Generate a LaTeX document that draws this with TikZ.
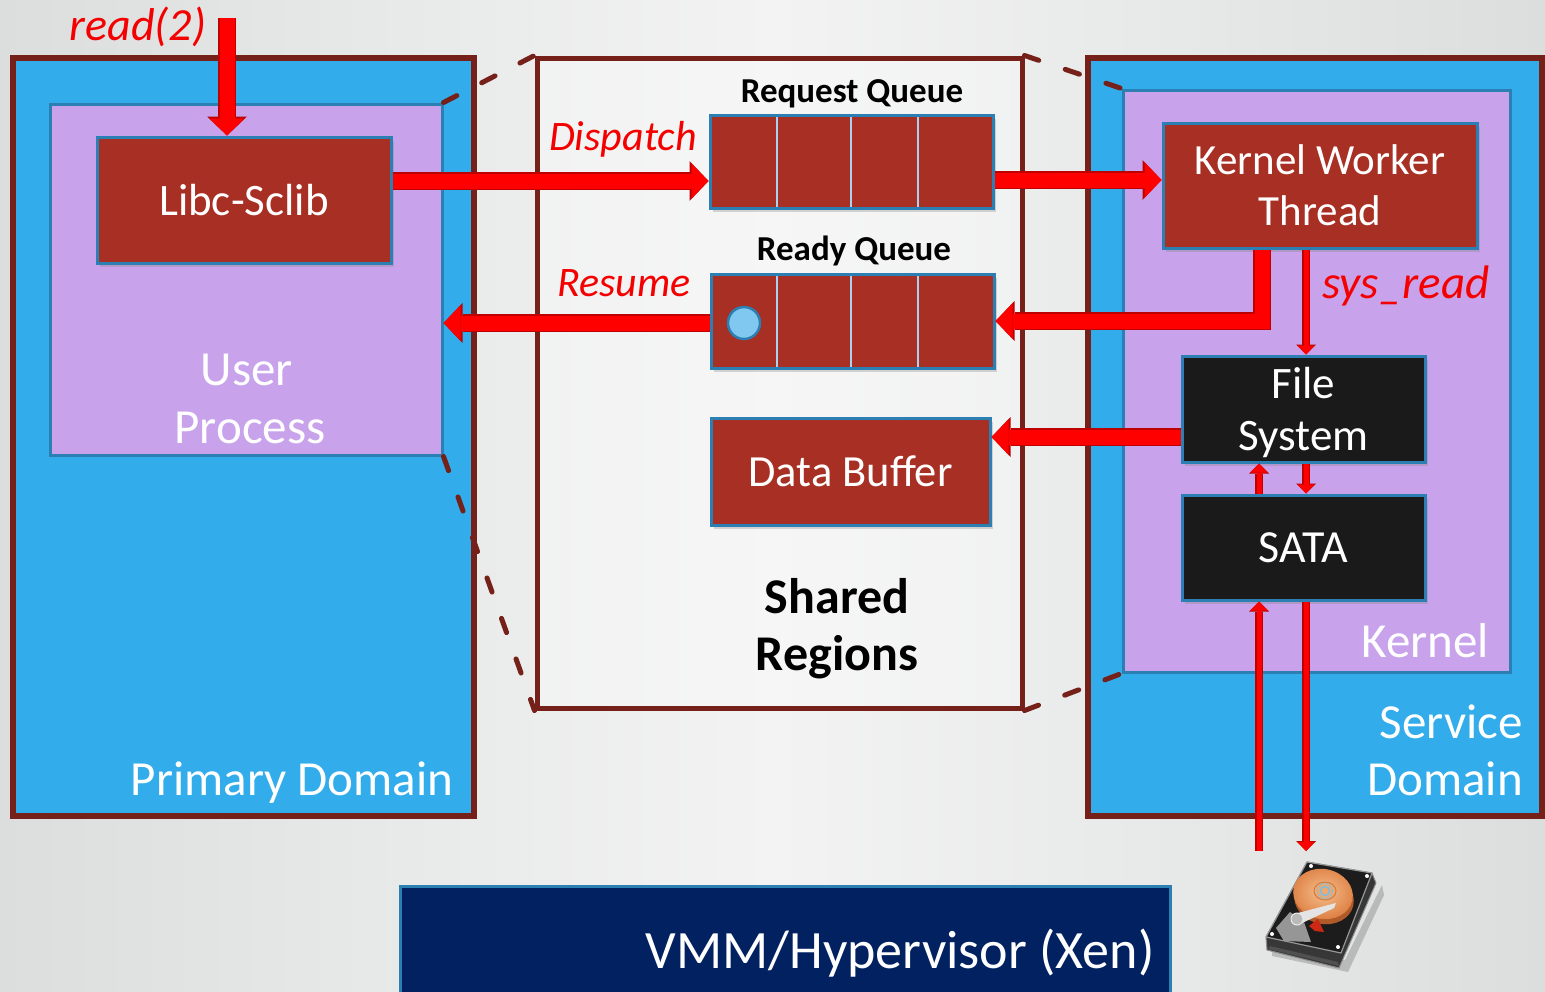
\documentclass[tikz,border=0pt]{standalone}
\usepackage{fontspec}
\setmainfont{Carlito}
\usetikzlibrary{arrows.meta,shadows,calc}

\definecolor{bgmid}{RGB}{243,243,243}
\definecolor{bgedge}{RGB}{220,222,222}
\definecolor{domblue}{RGB}{50,172,234}
\definecolor{lav}{RGB}{200,162,234}
\definecolor{brownline}{RGB}{117,32,25}
\definecolor{boxred}{RGB}{168,47,35}
\definecolor{boxblack}{RGB}{26,26,26}
\definecolor{edgeblue}{RGB}{44,127,178}
\definecolor{arrowred}{RGB}{255,0,0}
\definecolor{arrowedge}{RGB}{190,0,0}
\definecolor{labelred}{RGB}{245,0,0}
\definecolor{navy}{RGB}{2,33,96}
\definecolor{cellline}{RGB}{170,210,240}
\definecolor{tokenblue}{RGB}{128,200,240}
% hard disk palette
\definecolor{hddbody}{RGB}{55,55,55}
\definecolor{hddrim}{RGB}{140,140,140}
\definecolor{hddtop}{RGB}{28,28,28}
\definecolor{hddedge}{RGB}{150,150,150}
\definecolor{hddside}{RGB}{80,80,80}
\definecolor{platterdark}{RGB}{175,90,40}
\definecolor{platterlight}{RGB}{246,190,140}
\definecolor{platterout}{RGB}{222,130,70}
\definecolor{hubfill}{RGB}{240,168,110}
\definecolor{hubedge}{RGB}{205,125,65}
\definecolor{hubblue}{RGB}{120,190,230}
\definecolor{pcbgray}{RGB}{150,150,150}
\definecolor{cablered}{RGB}{205,40,20}
\definecolor{armgray}{RGB}{228,228,228}
\definecolor{pivotgray}{RGB}{185,185,185}
\definecolor{pivotedge}{RGB}{235,235,235}

\newcommand\txtsize[2]{\fontsize{#1}{#2}\selectfont}

\tikzset{
  domainbox/.style={rectangle, draw=brownline, line width=6pt, fill=domblue, inner sep=0pt},
  layerbox/.style={rectangle, draw=edgeblue, line width=3pt, fill=lav, inner sep=0pt},
  sharedbox/.style={rectangle, draw=brownline, line width=5pt, fill=white, fill opacity=0.3, inner sep=0pt},
  shadowed/.style={drop shadow={shadow xshift=3pt, shadow yshift=-4pt, opacity=0.3}},
  redbox/.style={rectangle, draw=edgeblue, line width=3pt, fill=boxred, text=white,
    align=center, inner sep=0pt, shadowed},
  darkbox/.style={redbox, fill=boxblack},
  hyperbox/.style={rectangle, draw=edgeblue, line width=3pt, fill=navy, inner sep=0pt},
  cellsep/.style={draw=cellline, line width=2pt},
  tokendot/.style={circle, draw=edgeblue, line width=2.5pt, fill=tokenblue, minimum size=32pt, inner sep=0pt},
  zoomline/.style={draw=brownline, line width=5pt, line cap=round, dash pattern=on 15pt off 28pt},
  heavy/.style={draw=arrowred, line width=15pt,
    -{Triangle[length=17pt,width=35pt,line width=0pt]},
    preaction={draw=arrowedge, line width=18pt,
      -{Triangle[length=19pt,width=40pt,line width=0pt]}}},
  thinarr/.style={draw=arrowred, line width=5pt,
    -{Triangle[length=9pt,width=17pt,line width=0pt]},
    preaction={draw=arrowedge, line width=7.5pt,
      -{Triangle[length=10pt,width=20pt,line width=0pt]}}},
  redlabel/.style={text=labelred, font=\itshape\txtsize{42}{46}, inner sep=0pt, anchor=base},
  qlabel/.style={text=black, font=\bfseries\txtsize{35}{38}, inner sep=0pt, anchor=base},
  biglabel/.style={text=black, font=\bfseries\txtsize{50}{54}, inner sep=0pt, anchor=base},
  whitelabel/.style={text=white, font=\txtsize{49}{54}, inner sep=0pt, anchor=base},
}

\begin{document}
\begin{tikzpicture}[x=1pt,y=-1pt]
\useasboundingbox (0,0) rectangle (1545,991);
\clip (0,0) rectangle (1545,991);
\shade[left color=bgedge, right color=bgedge, middle color=bgmid] (0,0) rectangle (1545,991);

% domains and their inner layers
\node[domainbox, minimum width=461pt, minimum height=758pt] (pd) at (243.5,437) {};
\node[domainbox, minimum width=454pt, minimum height=758pt] (sd) at (1315,437) {};
\node[layerbox, minimum width=392pt, minimum height=351pt] (up) at (246,279.5) {};
\node[layerbox, minimum width=387pt, minimum height=582pt] (kern) at (1316.5,381) {};
\node[sharedbox, minimum width=485pt, minimum height=650pt] (sh) at (779.5,383) {};

% projection lines onto the shared regions
\draw[zoomline] (up.north east) -- (sh.north west);
\draw[zoomline] (up.south east) -- (sh.south west);
\draw[zoomline] (sh.north east) -- (kern.north west);
\draw[zoomline] (sh.south east) -- (kern.south west);

% components
\node[redbox, minimum width=294pt, minimum height=126pt, font=\txtsize{45}{48}] (libc) at (244,200) {Libc-Sclib};
\node[redbox, minimum width=283pt, minimum height=93pt] (reqq) at (851.5,161.5) {};
\node[redbox, minimum width=283pt, minimum height=94pt] (rdq) at (852.5,321) {};
\node[redbox, minimum width=279pt, minimum height=107pt, font=\txtsize{44.5}{48}] (db) at (850.5,471.5) {Data Buffer};
\node[redbox, minimum width=314pt, minimum height=125pt, font=\txtsize{43}{51}] (kwt) at (1320,185.5) {Kernel Worker\\Thread};
\node[darkbox, minimum width=243pt, minimum height=106pt, font=\txtsize{45}{52}, text depth=0pt] (fs) at (1303.5,409) {File\\System};
\node[darkbox, minimum width=243pt, minimum height=105pt, font=\txtsize{46}{50}] (sata) at (1303.5,547.5) {SATA};
\node[hyperbox, minimum width=770pt, minimum height=128pt] (vmm) at (785,950) {};

% queue slots
\foreach \cx in {777,851,918} {
  \draw[cellsep] ($(reqq.north -| \cx,0)+(0,3)$) -- ($(reqq.south -| \cx,0)+(0,-3)$);
  \draw[cellsep] ($(rdq.north -| \cx,0)+(0,3)$) -- ($(rdq.south -| \cx,0)+(0,-3)$);
}
\node[tokendot] (tok) at (744,323) {};

% data flow
\coordinate (readin) at (227,18);
\coordinate (disktop) at (1282,851);
\draw[heavy] (readin) -- (libc.north -| readin);
\draw[heavy] (libc.east |- 0,181) -- (reqq.west |- 0,181);
\draw[heavy] (reqq.east |- 0,180) -- (kwt.west |- 0,180);
\draw[heavy] (kwt.south -| 1262,0) |- (rdq.east);
\draw[heavy] (rdq.west |- 0,323) -- (up.east |- 0,323);
\draw[heavy] (fs.west |- 0,437) -- (db.east |- 0,437);
\draw[thinarr] (kwt.south -| 1306,0) -- (fs.north -| 1306,0);
\draw[thinarr] (fs.south -| 1306,0) -- (sata.north -| 1306,0);
\draw[thinarr] (sata.north -| 1259,0) -- (fs.south -| 1259,0);
\draw[thinarr] (sata.south -| 1306,0) -- (disktop -| 1306,0);
\draw[thinarr] (disktop -| 1259,0) -- (sata.south -| 1259,0);

% labels
\node[redlabel, font=\itshape\txtsize{46}{50}] (lread) at (138,40) {read(2)};
\node[redlabel] (ldisp) at (623,150) {Dispatch};
\node[redlabel] (lres) at (624,296) {Resume};
\node[redlabel, font=\itshape\txtsize{47}{50}] (lsys) at (1406,298) {sys\_read};
\node[qlabel] (lreqq) at (852,102) {Request Queue};
\node[qlabel] (lrdq) at (854,260) {Ready Queue};
\node[biglabel] (lsh1) at (837,613) {Shared};
\node[biglabel] (lsh2) at (837,670) {Regions};
\node[whitelabel] (lup1) at (247,385) {User};
\node[whitelabel] (lup2) at (250,443) {Process};
\node[whitelabel] (lpd) at (292,795) {Primary Domain};
\node[whitelabel, anchor=base east] (lsd1) at (1523,738) {Service};
\node[whitelabel, anchor=base east] (lsd2) at (1523,795) {Domain};
\node[whitelabel, anchor=base east] (lkern) at (1489,657) {Kernel};
\node[whitelabel, font=\txtsize{54}{58}] (lvmm) at (900,968) {VMM/Hypervisor (Xen)};

% hard disk
\fill[black, opacity=0.18] (1272,942) -- (1345,960) -- (1382,885) -- (1384,895) -- (1348,972) -- (1272,956) -- cycle;
\filldraw[fill=hddbody, draw=hddrim, line width=1pt, line join=round]
  (1266,937) -- (1307,862) -- (1372,873) -- (1376,883) -- (1339,968) -- (1267,950) -- cycle;
\filldraw[fill=hddtop, draw=hddedge, line width=1.2pt, line join=round]
  (1307,862) -- (1372,873) -- (1341,953) -- (1266,937) -- cycle;
\fill[hddside] (1270,946) -- (1338,962) -- (1339,966) -- (1268,949) -- cycle;
\fill[platterdark] (1324,899) ellipse [x radius=30pt, y radius=25pt, rotate=-12];
\shade[inner color=platterlight, outer color=platterout] (1323,894) ellipse [x radius=30pt, y radius=25pt, rotate=-12];
\filldraw[fill=hubfill, draw=hubedge, line width=1pt] (1325,891) ellipse [x radius=11pt, y radius=9pt];
\draw[hubblue, line width=1.5pt] (1325,891) circle [radius=4.5pt];
\draw[hubblue, line width=1.2pt, dash pattern=on 1.5pt off 1.5pt] (1325,891) circle [radius=7.5pt];
\fill[pcbgray] (1276,928) -- (1290,912) -- (1304,922) -- (1311,942) -- (1284,941) -- cycle;
\fill[cablered] (1309,926) -- (1318,919) -- (1324,932) -- (1315,931) -- cycle;
\fill[armgray] (1294,914) -- (1336,903) -- (1334,908) -- (1300,924) -- cycle;
\filldraw[fill=pivotgray, draw=pivotedge, line width=1pt] (1297,919) circle [radius=6pt];
\foreach \sx/\sy in {1311/866, 1367/876, 1338/947, 1272/934}
  \fill[white] (\sx,\sy) circle [radius=2pt];
\end{tikzpicture}
\end{document}
